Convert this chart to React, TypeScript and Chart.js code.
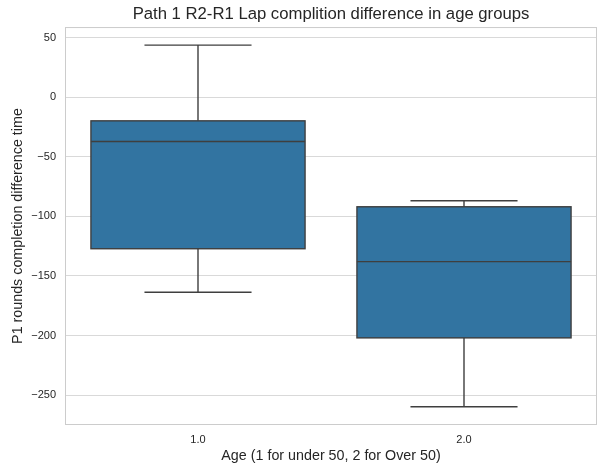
import React, { useEffect, useRef } from 'react';
import { Chart, registerables } from 'chart.js';

Chart.register(...registerables);

// Box-plot summary per age group
const categories = ['1.0', '2.0'];
const lowerWhisker = [-163.7, -259.8];
const firstQuartile = [-127.2, -202.0];
const medians = [-37.2, -138.0];
const thirdQuartile = [-19.9, -92.0];
const upperWhisker = [43.6, -86.9];

const yTicks = [-250, -200, -150, -100, -50, 0, 50];
const yMin = -275.1;
const yMax = 58.8;

const FONT = '"Liberation Sans", Arial, Helvetica, sans-serif';
const TEXT = '#262626';
const BOX_FILL = '#3274a1';
const LINE = '#3f3f3f';
const SPINE = '#cccccc';
const GRID = '#d9d9d9';

// Axes frame on all four sides
const framePlugin = {
  id: 'axesFrame',
  beforeDatasetsDraw(chart: any) {
    const { ctx, chartArea } = chart;
    ctx.save();
    ctx.strokeStyle = SPINE;
    ctx.lineWidth = 1;
    ctx.strokeRect(
      chartArea.left + 0.5,
      chartArea.top + 0.5,
      chartArea.right - chartArea.left - 1,
      chartArea.bottom - chartArea.top - 1
    );
    ctx.restore();
  },
};

// Box outline, whiskers, caps and median lines drawn on top of the quartile bars
const whiskerPlugin = {
  id: 'boxWhiskers',
  afterDatasetsDraw(chart: any) {
    const meta = chart.getDatasetMeta(0);
    const yScale = chart.scales.y;
    const ctx = chart.ctx;
    const py = (v: number) => yScale.getPixelForValue(v);
    ctx.save();
    ctx.strokeStyle = LINE;
    ctx.lineWidth = 1.4;
    meta.data.forEach((bar: any, i: number) => {
      const { x, width } = bar.getProps(['x', 'width'], true);
      const half = width / 2;
      const cap = width / 4;
      const yQ1 = py(firstQuartile[i]);
      const yQ3 = py(thirdQuartile[i]);
      ctx.beginPath();
      // lower whisker + cap
      ctx.moveTo(x, yQ1);
      ctx.lineTo(x, py(lowerWhisker[i]));
      ctx.moveTo(x - cap, py(lowerWhisker[i]));
      ctx.lineTo(x + cap, py(lowerWhisker[i]));
      // upper whisker + cap
      ctx.moveTo(x, yQ3);
      ctx.lineTo(x, py(upperWhisker[i]));
      ctx.moveTo(x - cap, py(upperWhisker[i]));
      ctx.lineTo(x + cap, py(upperWhisker[i]));
      // median
      ctx.moveTo(x - half, py(medians[i]));
      ctx.lineTo(x + half, py(medians[i]));
      ctx.stroke();
      // box outline
      ctx.strokeRect(x - half, yQ3, width, yQ1 - yQ3);
    });
    ctx.restore();
  },
};

export default function App() {
  const canvasRef = useRef<HTMLCanvasElement | null>(null);

  useEffect(() => {
    if (!canvasRef.current) return;
    const chart = new Chart(canvasRef.current, {
      type: 'bar',
      data: {
        labels: categories,
        datasets: [
          {
            data: categories.map((_, i) => [firstQuartile[i], thirdQuartile[i]]) as any,
            backgroundColor: BOX_FILL,
            borderWidth: 0,
            barPercentage: 0.805,
            categoryPercentage: 1.0,
          },
        ],
      },
      options: {
        responsive: false,
        animation: false,
        devicePixelRatio: 1,
        layout: { padding: 0 },
        plugins: {
          legend: { display: false },
          tooltip: { enabled: false },
          title: {
            display: true,
            text: 'Path 1 R2-R1 Lap complition difference in age groups',
            color: TEXT,
            font: { family: FONT, size: 16.7, weight: 'normal' },
            padding: { top: 4, bottom: 3 },
            fullSize: false,
          },
        },
        scales: {
          x: {
            type: 'category',
            grid: { display: false, drawTicks: false },
            border: { display: false },
            ticks: {
              color: TEXT,
              font: { family: FONT, size: 11 },
              padding: 8,
            },
            title: {
              display: true,
              text: 'Age (1 for under 50, 2 for Over 50)',
              color: TEXT,
              font: { family: FONT, size: 14.3 },
              padding: { top: 0, bottom: 0 },
            },
            afterFit: (scale: any) => {
              scale.height = 40;
            },
          },
          y: {
            type: 'linear',
            min: yMin,
            max: yMax,
            grid: { color: GRID, lineWidth: 1, drawTicks: false },
            border: { display: false },
            afterBuildTicks: (scale: any) => {
              scale.ticks = yTicks.map((v) => ({ value: v }));
            },
            ticks: {
              color: TEXT,
              font: { family: FONT, size: 11 },
              padding: 9,
              callback: (v: any) => String(v).replace('-', '\u2212'),
            },
            title: {
              display: true,
              text: 'P1 rounds completion difference time',
              color: TEXT,
              font: { family: FONT, size: 14.3 },
              padding: { top: 9, bottom: 0 },
            },
            afterFit: (scale: any) => {
              scale.width = 65;
            },
          },
        },
      },
      plugins: [framePlugin, whiskerPlugin],
    });
    return () => chart.destroy();
  }, []);

  return (
    <div style={{ position: 'absolute', left: 0, top: 0, width: 597, height: 465, background: '#ffffff' }}>
      <canvas ref={canvasRef} width={597} height={465} />
    </div>
  );
}
